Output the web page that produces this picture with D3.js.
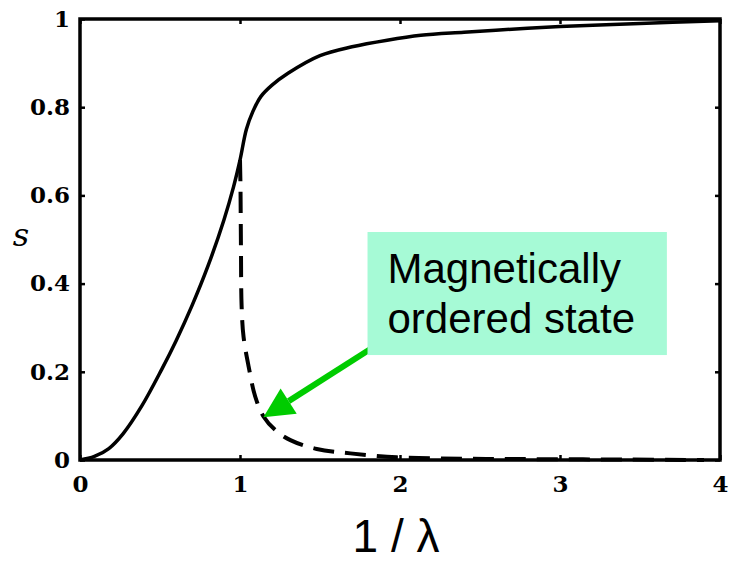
<!DOCTYPE html>
<html>
<head>
<meta charset="utf-8">
<script src="https://cdn.jsdelivr.net/npm/d3@7"></script>
<style>
  body { margin: 0; background: #fff; }
  svg { display: block; }
</style>
</head>
<body>
<svg id="chart" width="730" height="562"></svg>
<script>
// s versus 1/lambda

// solid branch
let solidX = [0, 0.09, 0.18, 0.27, 0.39, 0.51, 0.6, 0.7, 0.8, 0.9, 0.96, 1.0, 1.04, 1.08, 1.13, 1.2, 1.3, 1.5, 1.7, 1.92, 2.13, 2.4, 2.7, 3.0, 3.5, 4.0];
let solidS = [0, 0.008, 0.026, 0.06, 0.125, 0.205, 0.27, 0.35, 0.44, 0.545, 0.62, 0.68, 0.75, 0.79, 0.824, 0.85, 0.877, 0.917, 0.937, 0.952, 0.963, 0.97, 0.977, 0.983, 0.99, 0.996];

// dashed branch
let dashX = [1.0, 1.003, 1.006, 1.01, 1.022, 1.054, 1.095, 1.148, 1.22, 1.315, 1.48, 1.69, 1.98, 2.4, 2.82, 3.4, 3.9];
let dashS = [0.68, 0.62, 0.48, 0.35, 0.28, 0.212, 0.144, 0.098, 0.068, 0.045, 0.025, 0.015, 0.006, 0.003, 0.002, 0.001, 0.0];

let xTicks = [0, 1, 2, 3, 4];
let yTicks = [0, 0.2, 0.4, 0.6, 0.8, 1];

let noteLines = ["Magnetically", "ordered state"];
// annotation box corners and arrow tip in data units
let noteBox = { x0: 1.797, x1: 3.668, s0: 0.517, s1: 0.238 };
let arrowFrom = [1.83, 0.255];
let arrowTip = [1.146, 0.097];

let svg = d3.select("#chart");
let margin = { top: 19, left: 80 };
let width = 640, height = 441;

let x = d3.scaleLinear().domain([0, 4]).range([0, width]);
let y = d3.scaleLinear().domain([0, 1]).range([height, 0]);

let g = svg.append("g")
  .attr("transform", "translate(" + margin.left + "," + margin.top + ")");

let tickFont = "'DejaVu Serif', serif";

// bottom axis with labels
let xAxis = g.append("g")
  .attr("transform", "translate(0," + height + ")")
  .call(d3.axisBottom(x).tickValues(xTicks).tickFormat(d3.format("d")).tickSizeInner(-5).tickSizeOuter(0).tickPadding(16));
// left axis with labels
let yAxis = g.append("g")
  .call(d3.axisLeft(y).tickValues(yTicks).tickFormat(d => d == 0 || d == 1 ? d : d3.format(".1f")(d)).tickSizeInner(-5).tickSizeOuter(0).tickPadding(10));
// mirrored ticks on top and right
let xTop = g.append("g")
  .call(d3.axisTop(x).tickValues(xTicks).tickFormat("").tickSizeInner(-5).tickSizeOuter(0));
let yRight = g.append("g")
  .attr("transform", "translate(" + width + ",0)")
  .call(d3.axisRight(y).tickValues(yTicks).tickFormat("").tickSizeInner(-5).tickSizeOuter(0));

[xAxis, yAxis, xTop, yRight].forEach(a => {
  a.select(".domain").remove();
  a.selectAll(".tick line").attr("stroke", "#000").attr("stroke-width", 2.5);
  a.selectAll(".tick text")
    .attr("fill", "#000")
    .style("font-family", tickFont)
    .style("font-weight", "bold")
    .style("font-size", "23px");
});

// frame
g.append("rect")
  .attr("x", 0).attr("y", 0)
  .attr("width", width).attr("height", height)
  .attr("fill", "none")
  .attr("stroke", "#000")
  .attr("stroke-width", 3.5);

let line = d3.line()
  .x(d => x(d[0]))
  .y(d => y(d[1]))
  .curve(d3.curveCatmullRom);

g.append("path")
  .datum(solidX.map((v, i) => [v, solidS[i]]))
  .attr("d", line)
  .attr("fill", "none")
  .attr("stroke", "#000")
  .attr("stroke-width", 3.5);

g.append("path")
  .datum(dashX.map((v, i) => [v, dashS[i]]))
  .attr("d", line)
  .attr("fill", "none")
  .attr("stroke", "#000")
  .attr("stroke-width", 4)
  .attr("stroke-dasharray", "21,11");

// green arrow
let fx = x(arrowFrom[0]), fy = y(arrowFrom[1]);
let tx = x(arrowTip[0]), ty = y(arrowTip[1]);
let ang = Math.atan2(fy - ty, fx - tx);
let headLen = 30, headHalf = 15;
let bx = tx + headLen * Math.cos(ang), by = ty + headLen * Math.sin(ang);
let px = -Math.sin(ang) * headHalf, py = Math.cos(ang) * headHalf;

g.append("line")
  .attr("x1", fx).attr("y1", fy)
  .attr("x2", bx).attr("y2", by)
  .attr("stroke", "#00cc00")
  .attr("stroke-width", 6);
g.append("path")
  .attr("d", "M" + tx + "," + ty + "L" + (bx + px) + "," + (by + py) + "L" + (bx - px) + "," + (by - py) + "Z")
  .attr("fill", "#00cc00");

// note box
g.append("rect")
  .attr("x", x(noteBox.x0))
  .attr("y", y(noteBox.s0))
  .attr("width", x(noteBox.x1) - x(noteBox.x0))
  .attr("height", y(noteBox.s1) - y(noteBox.s0))
  .attr("fill", "#a6fad6");

g.append("text")
  .attr("x", x(noteBox.x0) + 20)
  .attr("y", y(noteBox.s0) + 51)
  .style("font-family", "'Liberation Sans', Arial, sans-serif")
  .style("font-size", "42px")
  .attr("fill", "#000")
  .selectAll("tspan")
  .data(noteLines)
  .enter()
  .append("tspan")
  .attr("x", x(noteBox.x0) + 20)
  .attr("dy", (d, i) => i == 0 ? 0 : 50)
  .text(d => d);

// axis titles
svg.append("text")
  .attr("x", margin.left + width / 2 - 4)
  .attr("y", 552)
  .attr("text-anchor", "middle")
  .style("font-family", "'Liberation Sans', Arial, sans-serif")
  .style("font-size", "46px")
  .attr("fill", "#000")
  .text("1 / λ");

svg.append("text")
  .attr("x", 21)
  .attr("y", 246)
  .attr("text-anchor", "middle")
  .style("font-family", tickFont)
  .style("font-style", "italic")
  .style("font-size", "32px")
  .attr("fill", "#000")
  .text("s");
</script>
</body>
</html>
